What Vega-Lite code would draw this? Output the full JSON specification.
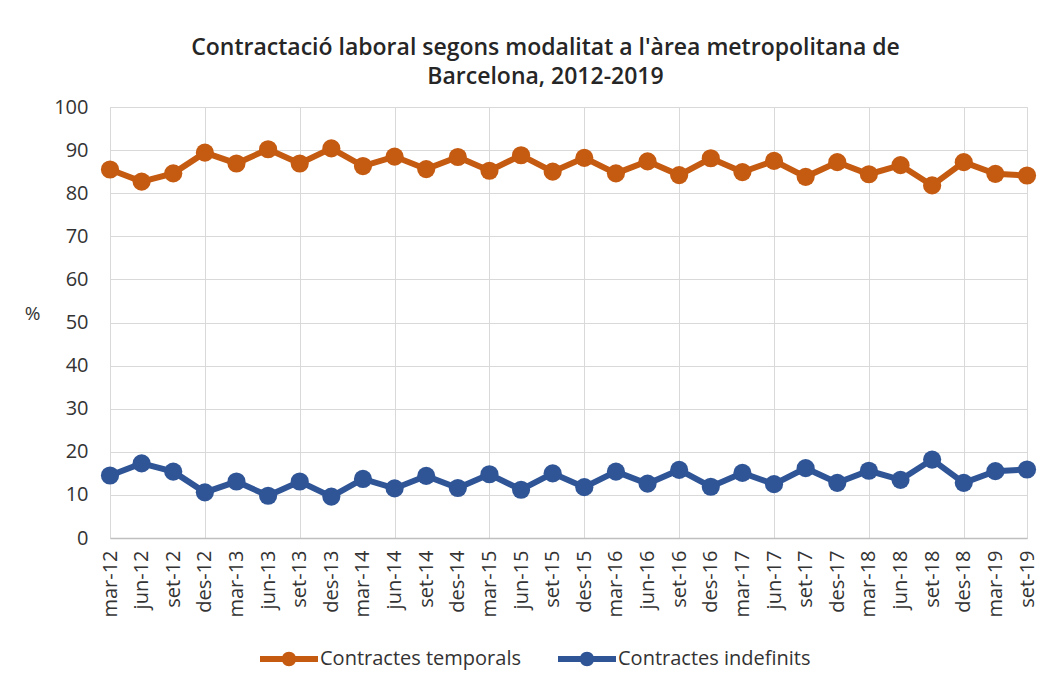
{
  "$schema": "https://vega.github.io/schema/vega-lite/v6.json",
  "autosize": {"type": "none"},
  "padding": {"left": 110, "top": 107, "right": 20, "bottom": 155},
  "width": 917,
  "height": 431,
  "background": "white",
  "config": {
    "view": {"stroke": "#d9d9d9", "strokeWidth": 1},
    "font": "Open Sans"
  },
  "title": {
    "text": "Contractació laboral segons modalitat a l'àrea metropolitana de",
    "subtitle": "Barcelona, 2012-2019",
    "font": "Open Sans",
    "fontSize": 23,
    "fontWeight": 600,
    "color": "#262626",
    "subtitleFont": "Open Sans",
    "subtitleFontSize": 23,
    "subtitleFontWeight": 600,
    "subtitleColor": "#262626",
    "subtitlePadding": 6,
    "anchor": "middle",
    "frame": "group",
    "dx": -23,
    "offset": 8
  },
  "data": {
    "values": [
      {"periode": "mar-12", "tipus": "Contractes temporals", "valor": 85.5},
      {"periode": "jun-12", "tipus": "Contractes temporals", "valor": 82.7},
      {"periode": "set-12", "tipus": "Contractes temporals", "valor": 84.6},
      {"periode": "des-12", "tipus": "Contractes temporals", "valor": 89.4},
      {"periode": "mar-13", "tipus": "Contractes temporals", "valor": 86.9},
      {"periode": "jun-13", "tipus": "Contractes temporals", "valor": 90.2},
      {"periode": "set-13", "tipus": "Contractes temporals", "valor": 86.9},
      {"periode": "des-13", "tipus": "Contractes temporals", "valor": 90.4},
      {"periode": "mar-14", "tipus": "Contractes temporals", "valor": 86.3},
      {"periode": "jun-14", "tipus": "Contractes temporals", "valor": 88.5},
      {"periode": "set-14", "tipus": "Contractes temporals", "valor": 85.6},
      {"periode": "des-14", "tipus": "Contractes temporals", "valor": 88.4},
      {"periode": "mar-15", "tipus": "Contractes temporals", "valor": 85.2},
      {"periode": "jun-15", "tipus": "Contractes temporals", "valor": 88.8},
      {"periode": "set-15", "tipus": "Contractes temporals", "valor": 85.0},
      {"periode": "des-15", "tipus": "Contractes temporals", "valor": 88.2},
      {"periode": "mar-16", "tipus": "Contractes temporals", "valor": 84.6},
      {"periode": "jun-16", "tipus": "Contractes temporals", "valor": 87.4},
      {"periode": "set-16", "tipus": "Contractes temporals", "valor": 84.2},
      {"periode": "des-16", "tipus": "Contractes temporals", "valor": 88.1},
      {"periode": "mar-17", "tipus": "Contractes temporals", "valor": 84.9},
      {"periode": "jun-17", "tipus": "Contractes temporals", "valor": 87.5},
      {"periode": "set-17", "tipus": "Contractes temporals", "valor": 83.8},
      {"periode": "des-17", "tipus": "Contractes temporals", "valor": 87.2},
      {"periode": "mar-18", "tipus": "Contractes temporals", "valor": 84.4},
      {"periode": "jun-18", "tipus": "Contractes temporals", "valor": 86.5},
      {"periode": "set-18", "tipus": "Contractes temporals", "valor": 81.8},
      {"periode": "des-18", "tipus": "Contractes temporals", "valor": 87.2},
      {"periode": "mar-19", "tipus": "Contractes temporals", "valor": 84.5},
      {"periode": "set-19", "tipus": "Contractes temporals", "valor": 84.1},
      {"periode": "mar-12", "tipus": "Contractes indefinits", "valor": 14.5},
      {"periode": "jun-12", "tipus": "Contractes indefinits", "valor": 17.3},
      {"periode": "set-12", "tipus": "Contractes indefinits", "valor": 15.4},
      {"periode": "des-12", "tipus": "Contractes indefinits", "valor": 10.6},
      {"periode": "mar-13", "tipus": "Contractes indefinits", "valor": 13.1},
      {"periode": "jun-13", "tipus": "Contractes indefinits", "valor": 9.8},
      {"periode": "set-13", "tipus": "Contractes indefinits", "valor": 13.1},
      {"periode": "des-13", "tipus": "Contractes indefinits", "valor": 9.6},
      {"periode": "mar-14", "tipus": "Contractes indefinits", "valor": 13.7},
      {"periode": "jun-14", "tipus": "Contractes indefinits", "valor": 11.5},
      {"periode": "set-14", "tipus": "Contractes indefinits", "valor": 14.4},
      {"periode": "des-14", "tipus": "Contractes indefinits", "valor": 11.6},
      {"periode": "mar-15", "tipus": "Contractes indefinits", "valor": 14.8},
      {"periode": "jun-15", "tipus": "Contractes indefinits", "valor": 11.2},
      {"periode": "set-15", "tipus": "Contractes indefinits", "valor": 15.0},
      {"periode": "des-15", "tipus": "Contractes indefinits", "valor": 11.8},
      {"periode": "mar-16", "tipus": "Contractes indefinits", "valor": 15.4},
      {"periode": "jun-16", "tipus": "Contractes indefinits", "valor": 12.6},
      {"periode": "set-16", "tipus": "Contractes indefinits", "valor": 15.8},
      {"periode": "des-16", "tipus": "Contractes indefinits", "valor": 11.9},
      {"periode": "mar-17", "tipus": "Contractes indefinits", "valor": 15.1},
      {"periode": "jun-17", "tipus": "Contractes indefinits", "valor": 12.5},
      {"periode": "set-17", "tipus": "Contractes indefinits", "valor": 16.2},
      {"periode": "des-17", "tipus": "Contractes indefinits", "valor": 12.8},
      {"periode": "mar-18", "tipus": "Contractes indefinits", "valor": 15.6},
      {"periode": "jun-18", "tipus": "Contractes indefinits", "valor": 13.5},
      {"periode": "set-18", "tipus": "Contractes indefinits", "valor": 18.2},
      {"periode": "des-18", "tipus": "Contractes indefinits", "valor": 12.8},
      {"periode": "mar-19", "tipus": "Contractes indefinits", "valor": 15.5},
      {"periode": "set-19", "tipus": "Contractes indefinits", "valor": 15.9}
    ]
  },
  "mark": {
    "type": "line",
    "strokeWidth": 6,
    "point": {"filled": true, "size": 330, "opacity": 1}
  },
  "encoding": {
    "x": {
      "field": "periode",
      "type": "ordinal",
      "sort": null,
      "scale": {"type": "point", "padding": 0},
      "axis": {
        "title": null,
        "labelAngle": -90,
        "labelFontSize": 20,
        "labelColor": "#333333",
        "labelPadding": 12,
        "ticks": false,
        "domainColor": "#bfbfbf",
        "domainWidth": 1.5,
        "grid": true,
        "gridColor": "#d9d9d9",
        "gridWidth": 1,
        "gridOpacity": {
          "condition": {
            "test": "indexof(['mar-12','des-12','set-13','jun-14','mar-15','des-15','set-16','jun-17','mar-18','des-18'], datum.value) >= 0",
            "value": 1
          },
          "value": 0
        }
      }
    },
    "y": {
      "field": "valor",
      "type": "quantitative",
      "scale": {"domain": [0, 100], "nice": false},
      "axis": {
        "values": [0, 10, 20, 30, 40, 50, 60, 70, 80, 90, 100],
        "title": "%",
        "titleAngle": 0,
        "titleFontSize": 19,
        "titleFontWeight": "normal",
        "titleColor": "#333333",
        "titleX": -78,
        "titleY": 206,
        "titleAlign": "center",
        "titleBaseline": "middle",
        "labelFontSize": 20,
        "labelColor": "#333333",
        "labelPadding": 22,
        "ticks": false,
        "domain": false,
        "gridColor": "#d9d9d9",
        "gridWidth": 1
      }
    },
    "color": {
      "field": "tipus",
      "type": "nominal",
      "sort": ["Contractes temporals", "Contractes indefinits"],
      "scale": {
        "domain": ["Contractes temporals", "Contractes indefinits"],
        "range": ["#c55a11", "#2f5597"]
      },
      "legend": {
        "title": null,
        "orient": "none",
        "direction": "horizontal",
        "legendX": 150,
        "legendY": 523,
        "labelFontSize": 20,
        "labelColor": "#333333",
        "labelLimit": 0,
        "labelOffset": 2,
        "columnPadding": 37,
        "symbolSize": 3364,
        "symbolStrokeWidth": 0,
        "symbolType": "M-1,-0.1L1,-0.1L1,0.1L-1,0.1Z M-0.25,0A0.25,0.25 0 1,1 0.25,0A0.25,0.25 0 1,1 -0.25,0Z",
        "encode": {
          "symbols": {
            "update": {
              "fill": {"scale": "color", "field": "value"},
              "strokeWidth": {"value": 0}
            }
          }
        }
      }
    }
  }
}
